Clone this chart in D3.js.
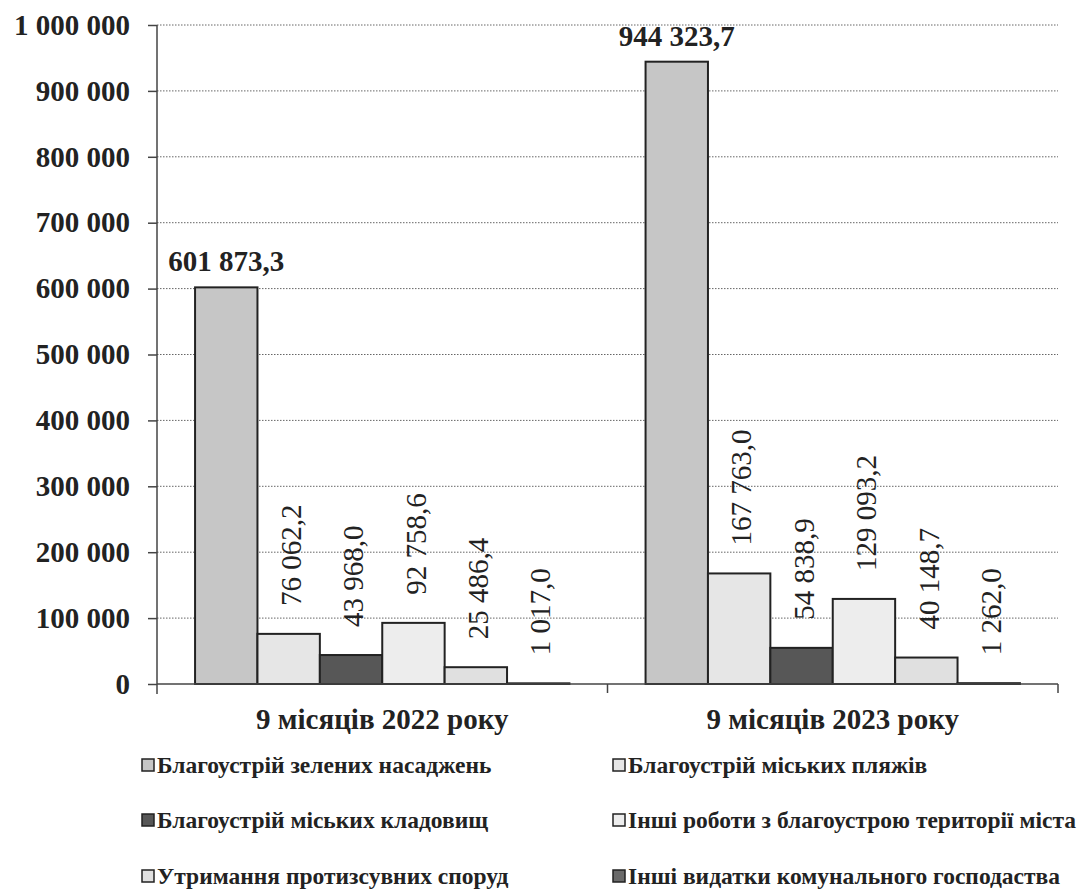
<!DOCTYPE html>
<html>
<head>
<meta charset="utf-8">
<script src="https://cdn.jsdelivr.net/npm/d3@7"></script>
<style>
  body { margin: 0; background: #fff; }
  svg text { font-family: "Liberation Serif", "DejaVu Serif", "Times New Roman", serif; }
  .grid line { stroke: #666; stroke-dasharray: 1.5 1.5; }
</style>
</head>
<body>
<div id="graph"></div>
<script>
const groups = ["9 місяців 2022 року", "9 місяців 2023 року"]
const series = [
    "Благоустрій зелених насаджень",
    "Благоустрій міських пляжів",
    "Благоустрій міських кладовищ",
    "Інші роботи з благоустрою території міста",
    "Утримання протизсувних споруд",
    "Інші видатки комунального господаства"
]
const values2022 = [601873.3, 76062.2, 43968.0, 92758.6, 25486.4, 1017.0]
const values2023 = [944323.7, 167763.0, 54838.9, 129093.2, 40148.7, 1262.0]
const yTicks = [0, 100000, 200000, 300000, 400000, 500000, 600000, 700000, 800000, 900000, 1000000]
const colors = ["#c6c6c6", "#e6e6e6", "#575757", "#ededed", "#e0e0e0", "#6a6a6a"]

const serif = "'Liberation Serif', 'DejaVu Serif', serif"
const W = 1084, H = 892
const margin = { top: 25, right: 26, bottom: 208, left: 157 },
    w = W - margin.left - margin.right,
    h = H - margin.top - margin.bottom

const svg = d3.select("#graph")
    .append("svg")
    .attr("width", W)
    .attr("height", H)
    .attr("font-family", serif)

const g = svg.append("g")
    .attr("transform", "translate(" + margin.left + "," + margin.top + ")")

const x0 = d3.scaleBand().domain(groups).range([0, w])
const x1 = d3.scaleBand().domain(d3.range(series.length))
    .range([0, x0.bandwidth()]).paddingOuter(0.61)
const y = d3.scaleLinear().domain([0, 1000000]).range([h, 0])

const fmt = v => d3.format(",.1f")(v).replace(/,/g, " ").replace(".", ",")
const fmtTick = v => d3.format(",")(v).replace(/,/g, " ")

// gridlines
g.append("g").attr("class", "grid")
    .selectAll("line")
    .data(yTicks.slice(1))
    .enter().append("line")
    .attr("x1", 0).attr("x2", w)
    .attr("y1", d => y(d)).attr("y2", d => y(d))

// y axis
const yAxis = g.append("g")
    .call(d3.axisLeft(y).tickValues(yTicks).tickFormat(fmtTick).tickSize(9).tickPadding(18))
    .attr("font-family", serif)
yAxis.select(".domain").attr("stroke", "#444").attr("stroke-width", 1.5)
    .attr("d", "M0,0V" + (h + 10))
yAxis.selectAll(".tick line").attr("stroke", "#444").attr("stroke-width", 1.5)
yAxis.selectAll("text")
    .style("font-family", serif)
    .style("font-size", "29px").style("font-weight", "bold").attr("fill", "#222")

const data = [values2022, values2023]

const grp = g.selectAll(".grp")
    .data(groups)
    .enter().append("g")
    .attr("class", "grp")
    .attr("transform", d => "translate(" + x0(d) + ",0)")

grp.selectAll("rect")
    .data((d, gi) => data[gi].map((v, i) => ({ v, i })))
    .enter().append("rect")
    .attr("x", d => x1(d.i))
    .attr("y", d => y(d.v))
    .attr("width", x1.bandwidth())
    .attr("height", d => h - y(d.v))
    .attr("fill", d => colors[d.i])
    .attr("stroke", "#222")
    .attr("stroke-width", 2)

// value labels
grp.selectAll(".lbl")
    .data((d, gi) => data[gi].map((v, i) => ({ v, i })))
    .enter().append("text")
    .attr("class", "lbl")
    .attr("fill", "#222")
    .attr("transform", d => {
        const cx = x1(d.i) + x1.bandwidth() / 2
        return d.i === 0
            ? "translate(" + cx + "," + (y(d.v) - 16) + ")"
            : "translate(" + (cx + 2) + "," + (y(d.v) - 28) + ") rotate(-90)"
    })
    .attr("text-anchor", d => d.i === 0 ? "middle" : "start")
    .attr("dy", d => d.i === 0 ? 0 : "0.35em")
    .style("font-family", serif)
    .style("font-size", "29px")
    .style("font-weight", d => d.i === 0 ? "bold" : "normal")
    .text(d => fmt(d.v))

// x axis
const xAxis = g.append("g")
    .attr("transform", "translate(0," + h + ")")
    .call(d3.axisBottom(x0).tickSize(0).tickPadding(24))
    .attr("font-family", serif)
xAxis.select(".domain").attr("stroke", "#444").attr("stroke-width", 1.5)
    .attr("d", "M0,0H" + w)
xAxis.selectAll("text")
    .style("font-family", serif)
    .style("font-size", "29px").style("font-weight", "bold").attr("fill", "#222")
xAxis.selectAll(".sep")
    .data([x0(groups[1]), w])
    .enter().append("line")
    .attr("x1", d => d).attr("x2", d => d)
    .attr("y1", 0).attr("y2", 9)
    .attr("stroke", "#444").attr("stroke-width", 1.5)

// legend
const legend = svg.append("g")
const legendX = [142, 613], legendY = [765, 820, 876]
const item = legend.selectAll(".item")
    .data(series)
    .enter().append("g")
    .attr("transform", (d, i) => "translate(" + legendX[i % 2] + "," + legendY[Math.floor(i / 2)] + ")")
item.append("rect")
    .attr("x", 0).attr("y", -6).attr("width", 12).attr("height", 12)
    .attr("fill", (d, i) => colors[i]).attr("stroke", "#222").attr("stroke-width", 1.5)
item.append("text")
    .attr("x", 15).attr("dy", "0.35em")
    .style("font-family", serif)
    .style("font-size", "23.5px").style("font-weight", "bold").attr("fill", "#222")
    .text(d => d)
</script>
</body>
</html>
